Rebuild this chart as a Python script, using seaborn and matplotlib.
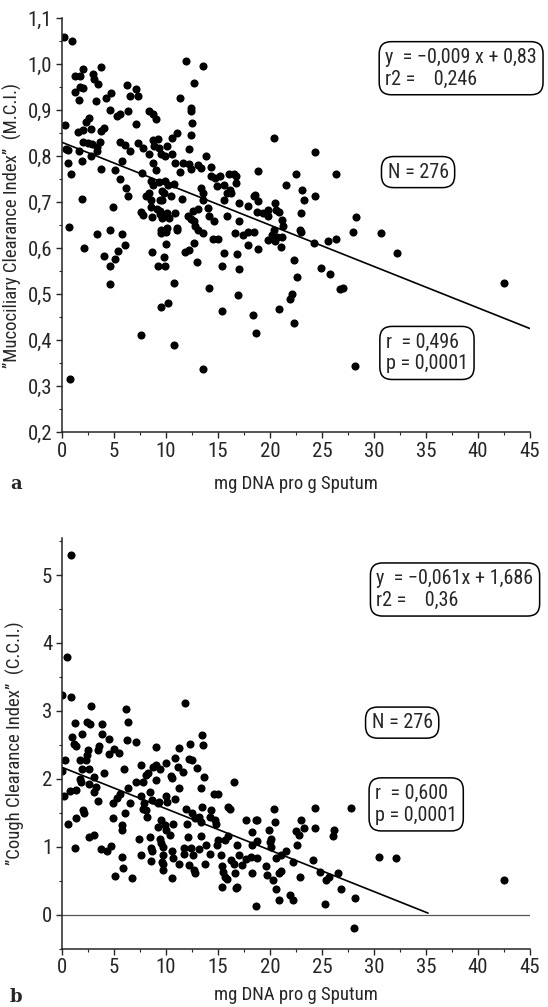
import numpy as np
import pandas as pd
import matplotlib.pyplot as plt
import seaborn as sns
from matplotlib.ticker import MultipleLocator
from matplotlib import font_manager

# panel a: DNA (mg/g sputum) vs Mucociliary Clearance Index
a_x = [0.2, 1.0, 1.3, 1.7, 2.0, 1.3, 1.7, 2.0, 1.65, 0.26, 0.4, 0.63, 0.56, 0.9, 1.65, 1.9, 1.55, 2.0, 2.05, 2.3,
       2.6, 2.8, 2.5, 2.9, 2.8, 3.0, 3.1, 3.3, 3.5, 3.8, 3.75, 4.0, 3.4, 3.7, 3.4, 3.75, 4.2, 4.7, 4.6, 5.3,
       5.6, 5.6, 6.1, 6.5, 5.8, 5.1, 5.6, 6.3, 7.1, 7.3, 6.5, 6.4, 7.1, 7.3, 7.8, 8.4, 7.7, 8.4, 8.8, 9.0,
       8.8, 9.2, 8.9, 9.3, 8.8, 9.0, 9.5, 9.9, 10.1, 10.6, 11.1, 11.4, 11.9, 12.4, 12.4, 12.5, 12.7, 13.6, 12.4, 12.2,
       13.9, 10.6, 10.9, 11.6, 12.2, 11.4, 12.4, 13.1, 13.4, 14.3, 13.4, 13.6, 14.3, 14.7, 15.2, 14.9, 15.6, 16.1, 16.5, 16.7,
       16.7, 16.2, 15.9, 16.3, 15.6, 18.9, 17.0, 17.9, 18.5, 18.6, 18.9, 18.8, 19.3, 19.8, 19.8, 20.4, 20.5, 20.6, 20.9, 21.2,
       21.3, 20.4, 20.7, 21.5, 22.5, 23.1, 23.3, 23.0, 22.9, 24.3, 24.3, 24.2, 26.4, 26.4, 28.0, 28.3, 30.7, 32.2,
       8.6, 8.8, 9.3, 9.9, 10.2, 10.8, 8.4, 8.1, 9.6, 9.8, 8.6, 9.4, 9.6, 8.6, 9.1, 9.4, 8.7, 9.4, 9.6, 10.1,
       10.3, 9.5, 10.0, 10.9, 11.1, 10.5, 11.5, 12.1, 12.4, 12.7, 12.6, 13.1, 12.8, 13.1, 13.6, 13.6, 14.0, 14.1, 14.6, 15.9,
       16.6, 17.0, 17.9, 18.5, 17.9, 1.9, 4.9, 7.6, 7.8, 6.2, 6.4,
       0.7, 2.1, 3.4, 4.0, 4.6, 4.6, 4.6, 5.1, 5.4, 5.8, 6.1, 7.6, 8.7, 9.2, 9.5, 9.5, 9.8, 9.9, 10.0, 10.1,
       10.2, 10.8, 10.8, 11.1, 11.8, 12.2, 12.7, 13.0, 13.6, 14.1, 14.5, 15.0, 15.4, 15.4, 15.6, 16.8, 16.9, 17.0, 17.4, 18.4,
       18.7, 18.9, 19.8, 20.2, 20.5, 21.1, 21.2, 20.9, 21.9, 22.1, 22.3, 22.3, 22.6, 23.0, 24.9, 25.6, 25.8, 26.7, 27.0, 28.2,
       42.5, 0.8]
a_y = [1.06, 1.05, 0.975, 0.975, 0.99, 0.94, 0.95, 0.947, 0.922, 0.867, 0.815, 0.813, 0.785, 0.762, 0.811, 0.789, 0.853, 0.856, 0.83, 0.875,
       0.882, 0.858, 0.829, 0.827, 0.8, 0.978, 0.967, 0.92, 0.956, 0.993, 0.855, 0.862, 0.82, 0.83, 0.811, 0.772, 0.927, 0.938, 0.9, 0.887,
       0.891, 0.83, 0.824, 0.811, 0.789, 0.77, 0.751, 0.954, 0.945, 0.931, 0.931, 0.898, 0.869, 0.829, 0.818, 0.804, 0.764, 0.898, 0.892, 0.881,
       0.836, 0.838, 0.822, 0.818, 0.784, 0.77, 0.805, 0.8, 0.823, 0.84, 0.851, 0.927, 1.006, 0.905, 0.898, 0.873, 0.959, 0.996, 0.845, 0.816,
       0.8, 0.804, 0.785, 0.785, 0.782, 0.765, 0.771, 0.78, 0.775, 0.776, 0.731, 0.72, 0.756, 0.753, 0.756, 0.735, 0.738, 0.76, 0.762, 0.756,
       0.742, 0.727, 0.719, 0.72, 0.705, 0.767, 0.698, 0.691, 0.713, 0.716, 0.702, 0.679, 0.676, 0.683, 0.669, 0.84, 0.697, 0.683, 0.678, 0.662,
       0.647, 0.64, 0.625, 0.738, 0.76, 0.727, 0.705, 0.676, 0.64, 0.809, 0.713, 0.611, 0.62, 0.76, 0.635, 0.668, 0.632, 0.589,
       0.745, 0.738, 0.743, 0.745, 0.738, 0.74, 0.72, 0.713, 0.724, 0.72, 0.705, 0.705, 0.705, 0.69, 0.685, 0.681, 0.668, 0.673, 0.665, 0.676,
       0.665, 0.64, 0.636, 0.676, 0.644, 0.713, 0.707, 0.669, 0.663, 0.658, 0.68, 0.684, 0.647, 0.64, 0.633, 0.705, 0.687, 0.669, 0.658, 0.67,
       0.633, 0.658, 0.636, 0.636, 0.607, 0.707, 0.69, 0.678, 0.672, 0.73, 0.713,
       0.646, 0.601, 0.631, 0.583, 0.639, 0.56, 0.522, 0.576, 0.594, 0.631, 0.607, 0.411, 0.591, 0.561, 0.633, 0.471, 0.58, 0.56, 0.609, 0.644,
       0.48, 0.524, 0.389, 0.64, 0.591, 0.595, 0.612, 0.569, 0.336, 0.513, 0.62, 0.62, 0.561, 0.463, 0.589, 0.587, 0.498, 0.554, 0.629, 0.455,
       0.415, 0.599, 0.618, 0.629, 0.616, 0.602, 0.624, 0.468, 0.489, 0.5, 0.575, 0.438, 0.538, 0.636, 0.556, 0.616, 0.543, 0.511, 0.513, 0.344,
       0.525, 0.315]

# panel b: DNA (mg/g sputum) vs Cough Clearance Index
b_x = [0.83, 0.5, 0.0, 0.9, 2.8, 6.2, 11.8, 1.3, 2.4, 2.7, 3.9, 6.4, 1.0, 1.2, 1.4, 1.9, 3.9, 4.5, 3.6, 3.5,
       2.5, 2.4, 1.75, 0.33, 2.6, 4.0, 4.5, 5.0, 5.5, 6.3, 7.1, 6.0, 7.6, 8.3, 8.8, 9.0, 9.0, 10.0, 10.9, 11.3,
       11.2, 11.6, 12.2, 12.3, 13.5, 13.6, 13.0, 12.5, 13.7, 10.5, 0.0,
       0.2, 0.8, 0.56, 1.4, 1.3, 1.4, 1.75, 1.8, 1.9, 2.0, 2.1, 2.3, 2.6, 3.1, 2.6, 3.1, 3.3, 3.1, 3.5, 3.8,
       4.3, 4.7, 4.9, 4.9, 5.1, 5.3, 5.6, 5.8, 5.8, 5.8, 5.9, 6.1, 6.4, 6.5, 6.7, 7.1, 7.4, 7.8, 7.6, 7.8,
       7.6, 8.1, 7.9, 8.2, 8.1, 8.5, 8.7, 8.5, 8.6, 8.7, 8.6, 9.4, 9.0, 9.2, 9.3, 9.2, 9.5, 9.4, 9.5, 9.7,
       9.7, 9.6, 9.7, 9.7, 10.0, 10.1, 9.9, 10.0, 10.6, 10.4, 10.6, 10.7, 10.6, 10.9, 10.7, 11.3, 11.3, 11.7, 11.7, 11.9,
       12.0, 12.1, 12.2, 12.4, 12.6, 12.7, 12.8, 12.5, 12.8, 13.2, 13.4, 13.4, 13.5, 13.8, 13.4, 13.2, 13.9, 14.2, 14.3, 14.2,
       14.6, 15.0, 14.7, 14.8, 14.9, 15.0, 15.3, 15.4, 15.5, 15.7, 15.4, 15.9, 15.7, 16.0, 16.0, 16.2, 16.5, 16.3, 16.5, 16.6,
       16.7, 16.8, 16.8, 17.0, 17.3, 17.7, 17.7, 18.2, 18.3, 18.3, 18.3, 18.7, 18.7, 18.8, 18.8, 18.8, 19.6, 19.7, 19.9, 20.0,
       20.1, 20.1, 20.3, 20.4, 20.5, 20.6, 21.1, 20.6, 20.9, 21.1, 20.9, 21.5, 21.9, 22.2, 22.2, 22.5, 22.8, 22.6, 22.9, 23.0,
       23.3, 24.1, 24.3, 24.3, 24.8, 25.3, 25.4, 25.7, 26.1, 26.2, 26.5, 26.8, 27.8, 28.2, 28.1, 30.5, 32.1, 42.5]
b_y = [5.30, 3.80, 3.23, 3.20, 3.07, 3.03, 3.12, 2.82, 2.83, 2.81, 2.81, 2.83, 2.61, 2.52, 2.48, 2.66, 2.66, 2.59, 2.49, 2.43,
       2.43, 2.35, 2.27, 2.28, 2.14, 2.09, 2.37, 2.44, 2.38, 2.57, 2.54, 2.15, 2.21, 2.09, 2.17, 2.21, 2.47, 2.23, 2.30, 2.46,
       2.18, 2.10, 2.29, 2.51, 2.65, 2.50, 2.16, 2.27, 2.02, 2.04, 2.12,
       1.75, 1.82, 1.34, 1.83, 0.98, 1.43, 2.00, 1.96, 2.15, 1.54, 1.50, 2.27, 1.15, 1.17, 1.92, 1.81, 1.88, 2.03, 1.67, 0.96,
       0.93, 1.01, 1.64, 1.42, 0.57, 1.72, 1.77, 1.32, 1.25, 0.85, 0.68, 1.50, 1.87, 1.65, 0.54, 1.96, 1.12, 1.96, 1.74, 1.56,
       0.88, 2.05, 1.64, 1.44, 1.54, 1.81, 1.69, 1.15, 0.98, 0.93, 0.79, 2.15, 1.98, 1.64, 1.66, 1.29, 1.39, 1.12, 1.05, 1.00,
       0.88, 0.78, 0.75, 0.66, 1.75, 1.66, 1.32, 1.25, 2.01, 1.17, 0.93, 0.83, 0.54, 1.70, 1.34, 0.75, 1.86, 0.98, 0.90, 1.56,
       1.34, 1.15, 0.73, 0.98, 0.88, 0.66, 0.62, 1.49, 1.42, 1.44, 1.37, 1.86, 1.59, 0.75, 1.16, 0.97, 1.03, 0.90, 1.54, 1.44,
       1.77, 1.77, 1.39, 1.34, 1.03, 1.10, 0.88, 0.71, 0.63, 0.56, 0.40, 0.52, 1.10, 1.16, 1.59, 1.56, 1.95, 0.80, 0.75, 0.61,
       0.39, 0.41, 1.02, 0.88, 0.73, 1.39, 0.82, 0.85, 0.61, 1.21, 1.02, 0.12, 1.39, 1.39, 1.08, 0.83, 0.71, 0.58, 1.25, 1.07,
       0.99, 1.12, 0.51, 1.56, 1.37, 0.83, 0.88, 0.38, 0.62, 0.64, 0.22, 0.93, 0.29, 0.22, 0.78, 1.23, 1.18, 1.03, 0.56, 1.39,
       1.28, 0.80, 1.28, 1.57, 0.63, 0.15, 0.51, 0.56, 1.16, 1.25, 0.61, 0.38, 1.57, 0.24, -0.20, 0.85, 0.83, 0.51]

# regression lines as drawn in the figure
fit_a_x = [0, 45]
fit_a_slope, fit_a_icpt = -0.009, 0.83
fit_b_x = [0, 35.2]
fit_b_slope, fit_b_icpt = -0.061, 2.17

x_ticks = [0, 5, 10, 15, 20, 25, 30, 35, 40, 45]
a_yticks = [0.2, 0.3, 0.4, 0.5, 0.6, 0.7, 0.8, 0.9, 1.0, 1.1]
a_ytick_labels = ["0,2", "0,3", "0,4", "0,5", "0,6", "0,7", "0,8", "0,9", "1,0", "1,1"]
b_yticks = [0, 1, 2, 3, 4, 5]

sns.set_style("ticks")
# narrow face if there is one, else DejaVu condensed
names = {f.name for f in font_manager.fontManager.ttflist}
fam = [n for n in ["Liberation Sans Narrow", "Roboto Condensed", "Open Sans Condensed"] if n in names]
plt.rcParams['font.family'] = fam + ['DejaVu Sans']
plt.rcParams['font.stretch'] = 'condensed'

df_a = pd.DataFrame({"dna": a_x, "mci": a_y})
df_b = pd.DataFrame({"dna": b_x, "cci": b_y})
line_a = pd.DataFrame({"x": fit_a_x, "y": [fit_a_icpt + fit_a_slope * v for v in fit_a_x]})
line_b = pd.DataFrame({"x": fit_b_x, "y": [fit_b_icpt + fit_b_slope * v for v in fit_b_x]})

fig = plt.figure(figsize=(5.48, 10.07), dpi=100)
ax1 = fig.add_axes([0.113, 0.571, 0.854, 0.411])
ax2 = fig.add_axes([0.113, 0.058, 0.854, 0.408])

box = dict(boxstyle="round,pad=0.3,rounding_size=0.6", fc="white", ec="black", lw=1.1)
fs_box = 14.5
fs_lab = 13.5

# --- panel a
sns.scatterplot(data=df_a, x="dna", y="mci", ax=ax1, color="black", s=34, linewidth=0)
sns.lineplot(data=line_a, x="x", y="y", ax=ax1, color="black", lw=1.2)
ax1.set_xlim(0, 45)
ax1.set_ylim(0.2, 1.1)
ax1.set_xticks(x_ticks)
ax1.set_yticks(a_yticks)
ax1.set_yticklabels(a_ytick_labels)
ax1.xaxis.set_minor_locator(MultipleLocator(2.5))
ax1.yaxis.set_minor_locator(MultipleLocator(0.05))
ax1.set_xlabel("mg DNA pro g Sputum", fontsize=fs_lab, labelpad=10)
ax1.set_ylabel("\u201dMucociliary Clearance Index\u201d  (M.C.I.)", fontsize=fs_lab, labelpad=4)
ax1.text(0.853, 0.879, "y  = \u22120,009 x + 0,83\nr2 =    0,246", transform=ax1.transAxes,
         ha="center", va="center", multialignment="left", fontsize=fs_box, bbox=box, clip_on=False)
ax1.text(0.761, 0.628, "N = 276", transform=ax1.transAxes, ha="center", va="center",
         fontsize=fs_box, bbox=box)
ax1.text(0.78, 0.191, "r  = 0,496\np = 0,0001", transform=ax1.transAxes, ha="center", va="center",
         multialignment="left", fontsize=fs_box, bbox=box)

# --- panel b
sns.scatterplot(data=df_b, x="dna", y="cci", ax=ax2, color="black", s=34, linewidth=0)
sns.lineplot(data=line_b, x="x", y="y", ax=ax2, color="black", lw=1.2)
ax2.axhline(0, color="#555555", lw=0.9)
ax2.set_xlim(0, 45)
ax2.set_ylim(-0.5, 5.55)
ax2.set_xticks(x_ticks)
ax2.set_yticks(b_yticks)
ax2.xaxis.set_minor_locator(MultipleLocator(2.5))
ax2.yaxis.set_minor_locator(MultipleLocator(0.5))
ax2.set_xlabel("mg DNA pro g Sputum", fontsize=fs_lab, labelpad=6)
ax2.set_ylabel("\u201dCough Clearance Index\u201d  (C.C.I.)", fontsize=fs_lab, labelpad=12)
ax2.text(0.84, 0.874, "y  = \u22120,061x + 1,686\nr2 =    0,36", transform=ax2.transAxes,
         ha="center", va="center", multialignment="left", fontsize=fs_box, bbox=box, clip_on=False)
ax2.text(0.727, 0.55, "N = 276", transform=ax2.transAxes, ha="center", va="center",
         fontsize=fs_box, bbox=box)
ax2.text(0.757, 0.351, "r  = 0,600\np = 0,0001", transform=ax2.transAxes, ha="center", va="center",
         multialignment="left", fontsize=fs_box, bbox=box)

for ax in (ax1, ax2):
    sns.despine(ax=ax)
    ax.spines["left"].set_linewidth(1.1)
    ax.spines["bottom"].set_linewidth(1.1)
    ax.tick_params(which="major", length=4, width=1, labelsize=15, pad=3)
    ax.tick_params(which="minor", length=2, width=0.8)

fig.text(0.018, 0.514, "a", fontsize=13, fontweight="bold", family="DejaVu Serif", stretch="normal")
fig.text(0.018, 0.005, "b", fontsize=13, fontweight="bold", family="DejaVu Serif", stretch="normal")

plt.savefig("out.png", dpi=100)
